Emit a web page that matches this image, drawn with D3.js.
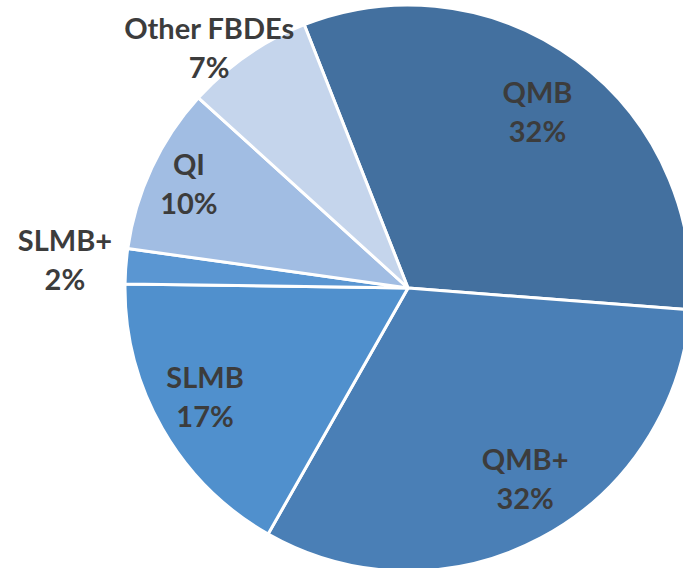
<!DOCTYPE html>
<html><head><meta charset="utf-8">
<script src="https://cdn.jsdelivr.net/npm/d3@7"></script>
<style>html,body{margin:0;padding:0;background:#fff;overflow:hidden}</style>
</head><body>
<svg id="c" width="683" height="568"></svg>
<script>
const categories = ["QMB", "QMB+", "SLMB", "SLMB+", "QI", "Other FBDEs"];
const values = [32.2, 32.0, 17.0, 2.0, 9.5, 7.3];
const colors = ["#43709f", "#4a7fb6", "#5090cd", "#5a96d2", "#a1bde3", "#c5d5ec"];

// label layout: radius factor and angle offset (deg) per slice
const labelLayout = {
  "QMB": {r: 0.77, da: 0},
  "QMB+": {r: 0.795, da: -3.4},
  "SLMB": {r: 0.816, da: 1.3},
  "SLMB+": {r: 1.216, da: 0},
  "QI": {r: 0.855, da: 0},
  "Other FBDEs": {r: 1.099, da: -5.1}
};

const W = 683, H = 568, cx = 408, cy = 288, R = 283;
const svg = d3.select("#c");
const g = svg.append("g").attr("transform", `translate(${cx},${cy})`);
const data = categories.map((c, i) => ({cat: c, v: values[i], color: colors[i]}));
const start = -21.5 * Math.PI / 180;
const pie = d3.pie().value(d => d.v).sort(null).startAngle(start).endAngle(start + 2 * Math.PI);
const arcs = pie(data);
const arc = d3.arc().innerRadius(0).outerRadius(R);

g.selectAll("path").data(arcs).enter().append("path")
  .attr("d", arc).attr("fill", d => d.data.color)
  .attr("stroke", "#fff").attr("stroke-width", 3).attr("stroke-linejoin", "round");

const total = d3.sum(values);
const lab = g.selectAll("text.lbl").data(arcs).enter().append("text")
  .attr("class", "lbl")
  .attr("text-anchor", "middle")
  .attr("font-family", "Lato, 'Open Sans', sans-serif")
  .attr("font-weight", "bold")
  .attr("font-size", 29)
  .attr("fill", "#3c3c3c")
  .attr("transform", d => {
    const L = labelLayout[d.data.cat];
    const a = (d.startAngle + d.endAngle) / 2 + L.da * Math.PI / 180;
    const r = L.r * R;
    return `translate(${r * Math.sin(a)},${-r * Math.cos(a)})`;
  });
lab.append("tspan").attr("x", 0).attr("y", -10).text(d => d.data.cat);
lab.append("tspan").attr("x", 0).attr("y", 29).text(d => Math.round(d.data.v / total * 100) + "%");
</script>
</body></html>
